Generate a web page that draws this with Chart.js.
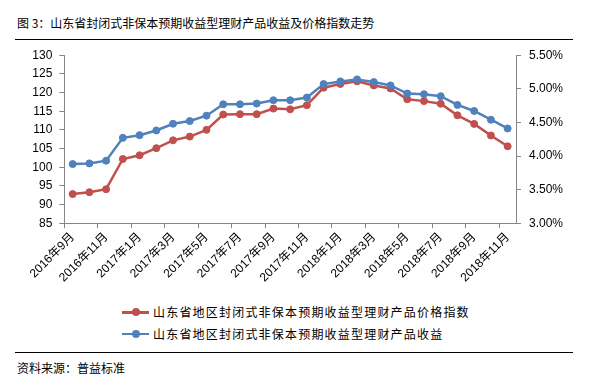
<!DOCTYPE html>
<html>
<head>
<meta charset="utf-8">
<script src="https://cdn.jsdelivr.net/npm/chart.js@4"></script>
<style>
  body { margin: 0; background: #fff; }
  #wrap { position: relative; width: 594px; height: 383px; overflow: hidden;
          font-family: "Noto Sans CJK SC", sans-serif; color: #000; }
  #grafik { position: absolute; left: 0; top: 0; }
  .judul { position: absolute; left: 17px; top: 15px; font-size: 12px; line-height: 16px; white-space: nowrap; }
  .garis { position: absolute; left: 15px; width: 558px; height: 0; border-top: 1.5px solid #000; }
  .legenda { position: absolute; left: 122px; font-size: 12px; line-height: 16px; white-space: nowrap; }
  .legenda .tanda { position: absolute; left: 0; top: 7px; width: 27px; height: 2.5px; }
  .legenda .tanda i { position: absolute; left: 10px; top: -2.75px; width: 8px; height: 8px; border-radius: 50%; }
  .legenda span.teks { position: absolute; left: 31px; top: 0; }
  .sumber { position: absolute; left: 17px; top: 360px; font-size: 12px; line-height: 16px; }
</style>
</head>
<body>
<div id="wrap">
  <div class="judul">图 3：山东省封闭式非保本预期收益型理财产品收益及价格指数走势</div>
  <div class="garis" style="top:38.5px"></div>
  <canvas id="grafik" width="594" height="300"></canvas>
  <div class="legenda" style="top:304px">
    <div class="tanda" style="background:#C0504D"><i style="background:#C0504D"></i></div>
    <span class="teks">山东省地区封闭式非保本预期收益型理财产品价格指数</span>
  </div>
  <div class="legenda" style="top:325.5px">
    <div class="tanda" style="background:#4F81BD"><i style="background:#4F81BD"></i></div>
    <span class="teks">山东省地区封闭式非保本预期收益型理财产品收益</span>
  </div>
  <div class="garis" style="top:351.5px"></div>
  <div class="sumber">资料来源：普益标准</div>
</div>
<script>
// =====================================================
// DATA — monthly, 2016-09 .. 2018-11
// =====================================================
const bulan = [
  "2016年9月", "2016年10月", "2016年11月", "2016年12月",
  "2017年1月", "2017年2月", "2017年3月", "2017年4月", "2017年5月", "2017年6月",
  "2017年7月", "2017年8月", "2017年9月", "2017年10月", "2017年11月", "2017年12月",
  "2018年1月", "2018年2月", "2018年3月", "2018年4月", "2018年5月", "2018年6月",
  "2018年7月", "2018年8月", "2018年9月", "2018年10月", "2018年11月"
];

// Price index (left axis, red)
const indeksHarga = [
  92.8, 93.3, 94.1, 102.2, 103.2, 105.1, 107.2, 108.2, 110.0,
  114.1, 114.2, 114.2, 115.7, 115.5, 116.6, 121.3, 122.3, 123.0,
  121.9, 121.1, 118.2, 117.7, 117.0, 113.9, 111.6, 108.5, 105.6
];

// Yield in % (right axis, blue)
const imbalHasil = [
  3.88, 3.89, 3.93, 4.27, 4.31, 4.38, 4.48, 4.52, 4.60,
  4.77, 4.77, 4.78, 4.83, 4.83, 4.87, 5.07, 5.11, 5.14,
  5.10, 5.05, 4.93, 4.92, 4.89, 4.76, 4.67, 4.54, 4.41
];

// Axis ranges
const sumbuKiri = { min: 85, max: 130, langkah: 5 };
const sumbuKanan = { min: 3.0, max: 5.5, langkah: 0.5 };

const MERAH = "#C0504D";
const BIRU = "#4F81BD";
const ABU = "#868686";

// =====================================================
// LEGEND TEXT — spread so each glyph takes ~13.2px like the original
// =====================================================
document.querySelectorAll(".legenda span.teks").forEach((el) => {
  const n = el.textContent.length;
  const lebar = el.getBoundingClientRect().width;
  const target = n * 13.2;
  el.style.letterSpacing = ((target - lebar) / n).toFixed(2) + "px";
});

// =====================================================
// CHART
// =====================================================
Chart.defaults.font.family = "'Liberation Sans', 'Noto Sans CJK SC', sans-serif";
Chart.defaults.font.size = 12;
Chart.defaults.color = "#000";

// tick marks only every 2nd category boundary (Excel style)
const warnaTick = (ctx) => (ctx.index !== undefined && ctx.index % 2 === 0) ? ABU : "rgba(0,0,0,0)";

const ctx = document.getElementById("grafik").getContext("2d");
new Chart(ctx, {
  type: "line",
  data: {
    labels: bulan,
    datasets: [
      {
        label: "山东省地区封闭式非保本预期收益型理财产品价格指数",
        data: indeksHarga,
        yAxisID: "y",
        borderColor: MERAH,
        backgroundColor: MERAH,
        borderWidth: 2.5,
        pointRadius: 3.5,
        pointBorderWidth: 1,
        tension: 0,
        order: 1,
      },
      {
        label: "山东省地区封闭式非保本预期收益型理财产品收益",
        data: imbalHasil,
        yAxisID: "y1",
        borderColor: BIRU,
        backgroundColor: BIRU,
        borderWidth: 2.5,
        pointRadius: 3.5,
        pointBorderWidth: 1,
        tension: 0,
        order: 0,
      },
    ],
  },
  options: {
    responsive: false,
    animation: false,
    layout: { padding: { top: 55.2, left: 0, right: 0, bottom: 0 } },
    plugins: {
      legend: { display: false }, // legend is in HTML below
      tooltip: { enabled: false },
    },
    scales: {
      x: {
        offset: true,
        grid: {
          offset: true,
          drawOnChartArea: false,
          tickLength: 5,
          color: warnaTick,
          tickColor: warnaTick,
        },
        border: { color: ABU, width: 1 },
        ticks: {
          autoSkip: false,
          minRotation: 45,
          maxRotation: 45,
          padding: 2,
          callback: (val, i) => (i % 2 === 0 ? bulan[i] : ""),
        },
        afterFit: (s) => { s.height = 300 - 223.2; },
      },
      y: {
        position: "left",
        min: sumbuKiri.min,
        max: sumbuKiri.max,
        grid: { drawOnChartArea: false, tickLength: 5, color: ABU },
        border: { color: ABU, width: 1 },
        ticks: { stepSize: sumbuKiri.langkah, padding: 7 },
        afterFit: (s) => { s.width = 64.3; },
      },
      y1: {
        position: "right",
        min: sumbuKanan.min,
        max: sumbuKanan.max,
        grid: { drawOnChartArea: false, tickLength: 5, color: ABU },
        border: { color: ABU, width: 1 },
        ticks: {
          stepSize: sumbuKanan.langkah,
          padding: 8,
          callback: (v) => v.toFixed(2) + "%",
        },
        afterFit: (s) => { s.width = 594 - 516; },
      },
    },
  },
});
</script>
</body>
</html>
